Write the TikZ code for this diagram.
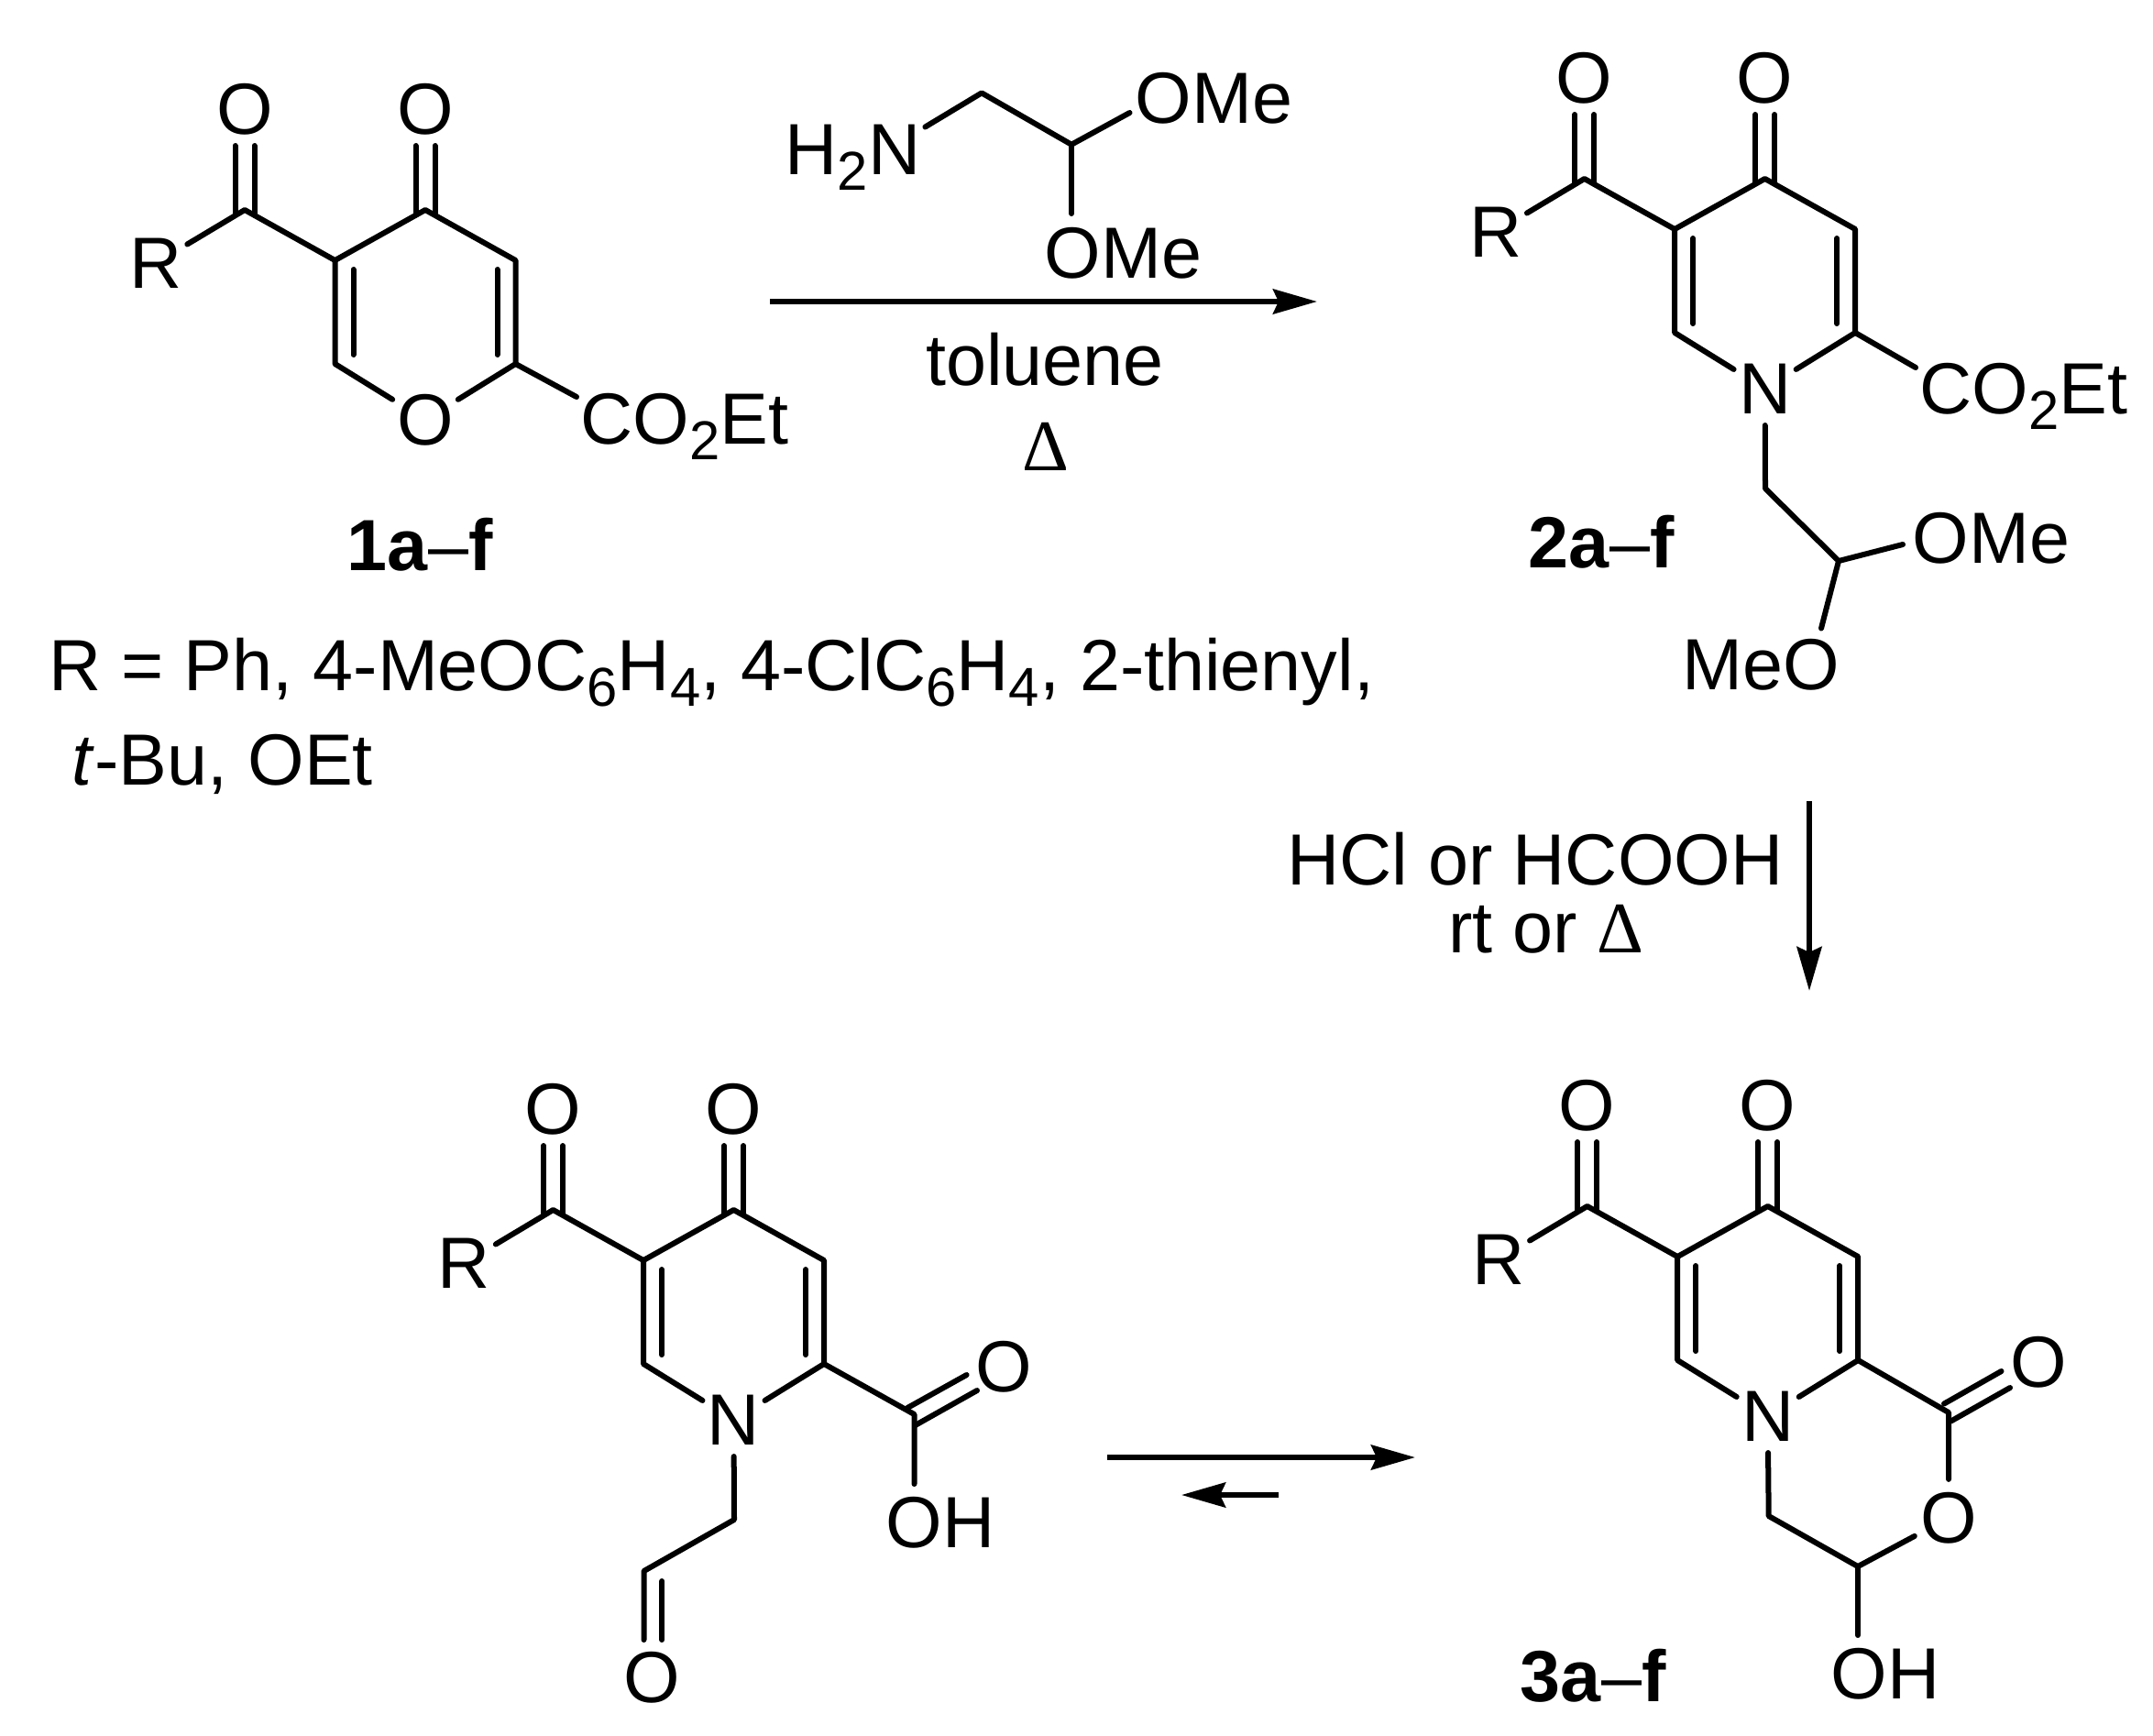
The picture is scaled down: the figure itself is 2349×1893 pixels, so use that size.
\documentclass[tikz,border=0pt]{standalone}
\usepackage{fontspec}
\setmainfont{Liberation Sans}
\newfontfamily\deltafont{Liberation Serif}
\usetikzlibrary{arrows.meta}
\tikzset{>={Stealth[length=0.48cm,width=0.27cm,inset=0.06cm]},
  bond/.style={line width=0.06cm, line cap=round, line join=round},
  rxn/.style={line width=0.06cm, ->},
  atom/.style={circle, inner sep=0pt},
  lab/.style={inner sep=0pt, anchor=base west},
  mid/.style={inner sep=0pt, anchor=base}}
% subscript, dropped below the baseline
\newcommand{\dn}[1]{\raisebox{-0.17cm}{\fontsize{17}{17}\selectfont #1}}
\newcommand{\dlt}{{\deltafont Δ}}
% C=O drawn upwards, carbon #1, oxygen #2
\newcommand{\carbonyl}[2]{
  \draw[bond]([shift={(-10.5,5)}]#1)--([shift={(-10.5,40)}]#2.center);
  \draw[bond]([shift={(10.5,5)}]#1)--([shift={(10.5,40)}]#2.center);}
% the acylated six-membered ring: name, apex x, apex y, ring atom
\newcommand{\ketoring}[4]{
  \begin{scope}[shift={(#2,#3)}]
  \coordinate(#1c4) at (0,0);
  \coordinate(#1c3) at (98.5,55);
  \coordinate(#1c2) at (98.5,168);
  \coordinate(#1c6) at (-98.5,168);
  \coordinate(#1c5) at (-98.5,55);
  \coordinate(#1cx) at (-197,0);
  \node[atom](#1het) at (0,229){#4};
  \node[atom](#1r) at (-294,58){R};
  \node[atom](#1ox) at (-197,-110){O};
  \node[atom](#1oy) at (0,-110){O};
  \draw[bond](#1r)--(#1cx)--(#1c5)--(#1c4)--(#1c3)--(#1c2)--(#1het);
  \draw[bond](#1c5)--(#1c6)--(#1het);
  \draw[bond]([shift={(20,10)}]#1c5)--([shift={(20,-10)}]#1c6);
  \draw[bond]([shift={(-20,10)}]#1c3)--([shift={(-20,-10)}]#1c2);
  \carbonyl{#1cx}{#1ox}
  \carbonyl{#1c4}{#1oy}
  \end{scope}}

\begin{document}
\begin{tikzpicture}[x=0.01cm, y=-0.01cm, every node/.style={font=\fontsize{22.5}{26}\selectfont}]
  \useasboundingbox (0,0) rectangle (2349,1893);
  % 1a-f
  \ketoring{a}{464}{229}{O}
  \node[lab](aester) at (633,484){CO\dn{2}Et};
  \coordinate(aend) at (629,433);
  \draw[bond](ac2)--(aend);
  \node[mid](aname) at (458,622){\textbf{1a}–\textbf{f}};
  \node[lab](rlist) at (53,753){R = Ph, 4-MeOC\dn{6}H\dn{4}, 4-ClC\dn{6}H\dn{4}, 2-thienyl,};
  \node[lab](rmore) at (78,856){\textit{t}-Bu, OEt};
  % amine over the first arrow
  \node[lab](amine) at (856,190){H\dn{2}N};
  \coordinate(nh) at (1009.4,138.5);
  \coordinate(ch2) at (1071,101.4);
  \coordinate(ch) at (1169,157.7);
  \coordinate(ome1) at (1232.5,123);
  \coordinate(ome2) at (1169,233);
  \node[lab](ometop) at (1238,134){OMe};
  \node[lab](omelow) at (1139,303){OMe};
  \draw[bond](nh)--(ch2)--(ch)--(ome1);
  \draw[bond](ch)--(ome2);
  \coordinate(arra) at (840,329);
  \coordinate(arrb) at (1437,329);
  \draw[rxn](arra)--(arrb);
  \node[mid](solv) at (1140,420.5){toluene};
  \node[mid](heata) at (1141,513){\dlt};
  % 2a-f
  \ketoring{b}{1925.6}{195}{N}
  \node[lab](bester) at (2094,451){CO\dn{2}Et};
  \coordinate(bend) at (2090,401);
  \draw[bond](bc2)--(bend);
  \coordinate(bch2) at (1926,533);
  \coordinate(bch) at (2006,612);
  \coordinate(bome1) at (2076,594);
  \coordinate(bome2) at (1987,685.5);
  \node[lab](bomea) at (2086,614){OMe};
  \node[lab](bomeb) at (1835,752.5){MeO};
  \draw[bond](bhet)--(bch2)--(bch)--(bome1);
  \draw[bond](bch)--(bome2);
  \node[mid](bname) at (1747,619.5){\textbf{2a}–\textbf{f}};
  % second arrow
  \coordinate(arrc) at (1974,874);
  \coordinate(arrd) at (1974,1081);
  \draw[rxn](arrc)--(arrd);
  \node[mid](acid) at (1675,965){HCl or HCOOH};
  \node[mid](heatb) at (1687,1039){rt or \dlt};
  % open aldehyde acid
  \ketoring{c}{800.5}{1320}{N}
  \coordinate(cco) at (997.5,1543);
  \coordinate(coha) at (997.5,1619);
  \node[atom](cox) at (1095,1491){O};
  \node[lab](coh) at (966,1688){OH};
  \draw[bond](cc2)--(cco)--(coha);
  \draw[bond](990,1536)--(1054.6,1500);
  \draw[bond](998.5,1555)--(1066,1517);
  \coordinate(cch2) at (801,1658);
  \coordinate(ccho) at (702.5,1714);
  \coordinate(cdo) at (702.5,1789);
  \node[atom](cald) at (711.7,1830){O};
  \draw[bond](chet)--(cch2)--(ccho)--(cdo);
  \draw[bond](722.4,1725)--(722.4,1789);
  % equilibrium
  \coordinate(eqa) at (1208,1590);
  \coordinate(eqb) at (1544,1590);
  \coordinate(eqc) at (1395,1631);
  \coordinate(eqd) at (1289,1631);
  \draw[rxn](eqa)--(eqb);
  \draw[rxn](eqc)--(eqd);
  % 3a-f
  \ketoring{d}{1928.7}{1316}{N}
  \coordinate(dco) at (2126,1541);
  \node[atom](dox) at (2224,1486.5){O};
  \node[atom](dor) at (2126,1656){O};
  \coordinate(dch2) at (1929.7,1654);
  \coordinate(dch) at (2027,1709);
  \coordinate(doha) at (2027,1784);
  \node[lab](doh) at (1997,1853){OH};
  \draw[bond](dc2)--(dco)--(dor)--(dch)--(dch2)--(dhet);
  \draw[bond](dch)--(doha);
  \draw[bond](2121,1531.5)--(2183.5,1496);
  \draw[bond](2128.5,1550.5)--(2193,1514);
  \node[mid](dname) at (1738,1856){\textbf{3a}–\textbf{f}};
\end{tikzpicture}
\end{document}
